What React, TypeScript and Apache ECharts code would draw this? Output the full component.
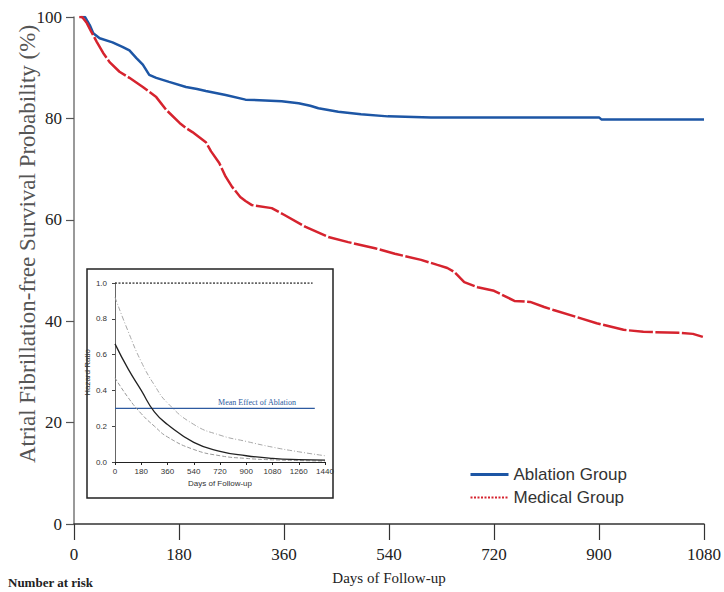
import React, { useEffect, useRef } from "react";
import * as echarts from "echarts";

// Kaplan-Meier estimates (days of follow-up, survival %)
const ablationDays = [12, 19, 27, 33, 44, 66, 83, 95, 107, 118, 129, 141, 163, 192, 211, 226, 260, 294, 356, 385, 405, 419, 453, 492, 538, 612, 900, 904, 1080];
const ablationSurv = [100, 100, 98.4, 96.8, 95.8, 95.0, 94.1, 93.4, 91.9, 90.6, 88.6, 88.0, 87.2, 86.2, 85.8, 85.4, 84.6, 83.7, 83.4, 83.0, 82.5, 82.0, 81.3, 80.8, 80.4, 80.2, 80.2, 79.8, 79.8];

const medicalDays = [9, 14, 22, 30, 39, 50, 61, 78, 95, 118, 141, 158, 181, 192, 203, 226, 235, 249, 260, 271, 285, 294, 305, 339, 360, 397, 436, 470, 516, 550, 595, 623, 640, 652, 669, 692, 720, 755, 782, 806, 822, 862, 896, 942, 976, 1037, 1061, 1078];
const medicalSurv = [100, 100, 98.8, 97.0, 95.1, 92.9, 91.1, 89.2, 88.0, 86.2, 84.2, 81.7, 79.1, 78.1, 77.3, 75.3, 73.5, 71.2, 68.5, 66.5, 64.5, 63.7, 62.9, 62.3, 61.0, 58.6, 56.6, 55.6, 54.4, 53.3, 52.1, 51.1, 50.5, 49.7, 47.7, 46.7, 46.0, 44.0, 43.8, 42.8, 42.2, 40.8, 39.6, 38.3, 37.9, 37.7, 37.5, 36.9];

// Inset: time-varying hazard ratio of ablation vs. medical therapy
const hrDays = [0, 90, 180, 270, 360, 540, 720, 900, 1080, 1260, 1440];
const hrMean = [0.66, 0.52, 0.4, 0.28, 0.21, 0.11, 0.06, 0.035, 0.02, 0.013, 0.01];
const hrUpper = [0.92, 0.73, 0.56, 0.43, 0.33, 0.21, 0.15, 0.115, 0.083, 0.057, 0.035];
const hrLower = [0.47, 0.36, 0.27, 0.2, 0.14, 0.07, 0.035, 0.02, 0.012, 0.008, 0.005];
const refLineDays = [0, 1355];
const refLineHr = [1.0, 1.0];
const meanEffectDays = [0, 1370];
const meanEffectHr = [0.3, 0.3];

const zip = (xs: number[], ys: number[]) => xs.map((x, i) => [x, ys[i]]);

const SERIF = "'Liberation Serif', 'Times New Roman', serif";
const NARROW = "'Liberation Sans Narrow', 'Liberation Sans', Arial, sans-serif";
const BLUE = "#1d56a5";
const RED = "#d6232e";

export default function App() {
  const ref = useRef<HTMLDivElement>(null);

  useEffect(() => {
    document.body.style.margin = "0";
    if (!ref.current) return;
    const chart = echarts.init(ref.current, null, { renderer: "svg" });

    chart.setOption({
      animation: false,
      backgroundColor: "#ffffff",
      grid: [
        { left: 74, right: 16, top: 17, bottom: 68 },
        { left: 115, top: 283, width: 210, height: 179 },
      ],
      legend: {
        orient: "vertical",
        left: 464,
        top: 461,
        itemWidth: 38,
        itemHeight: 12,
        itemGap: 6,
        textStyle: { fontFamily: NARROW, fontSize: 17, color: "#333" },
        data: [
          {
            name: "Ablation Group",
            itemStyle: { opacity: 0 },
            lineStyle: { color: BLUE, width: 3, type: "solid" },
          },
          {
            name: "Medical Group",
            itemStyle: { opacity: 0 },
            lineStyle: { color: RED, width: 2, type: [2, 1.5] },
          },
        ],
      },
      xAxis: [
        {
          gridIndex: 0,
          type: "value",
          min: 0,
          max: 1080,
          interval: 180,
          splitLine: { show: false },
          axisLine: { lineStyle: { color: "#333", width: 1.5 } },
          axisTick: { length: 16, lineStyle: { color: "#333", width: 1.2 } },
          axisLabel: {
            fontFamily: SERIF,
            fontSize: 17,
            color: "#222",
            margin: 22,
            formatter: (v: number) => String(v),
          },
          name: "Days of Follow-up",
          nameLocation: "middle",
          nameGap: 46,
          nameTextStyle: { fontFamily: SERIF, fontSize: 15, color: "#222" },
        },
        {
          gridIndex: 1,
          type: "value",
          min: 0,
          max: 1440,
          interval: 180,
          splitLine: { show: false },
          axisLine: { lineStyle: { color: "#222", width: 1 } },
          axisTick: { length: 3, lineStyle: { color: "#222" } },
          axisLabel: {
            fontFamily: NARROW,
            fontSize: 8,
            color: "#333",
            margin: 5,
            formatter: (v: number) => String(v),
          },
          name: "Days of Follow-up",
          nameLocation: "middle",
          nameGap: 17,
          nameTextStyle: { fontFamily: NARROW, fontSize: 8, color: "#333" },
        },
      ],
      yAxis: [
        {
          gridIndex: 0,
          type: "value",
          min: 0,
          max: 100,
          interval: 20,
          splitLine: { show: false },
          axisLine: { show: true, lineStyle: { color: "#777", width: 1.5 } },
          axisTick: { show: true, length: 8, lineStyle: { color: "#555", width: 1.2 } },
          axisLabel: { fontFamily: SERIF, fontSize: 17, color: "#222", margin: 12 },
        },
        {
          gridIndex: 1,
          type: "value",
          min: 0,
          max: 1,
          interval: 0.2,
          splitLine: { show: false },
          axisLine: { show: true, lineStyle: { color: "#666", width: 1 } },
          axisTick: { show: true, length: 3, lineStyle: { color: "#444" } },
          axisLabel: {
            fontFamily: NARROW,
            fontSize: 8,
            color: "#333",
            margin: 8,
            formatter: (v: number) => v.toFixed(1),
          },
          name: "Hazard Ratio",
          nameLocation: "middle",
          nameGap: 20,
          nameTextStyle: { fontFamily: NARROW, fontSize: 8, color: "#333" },
        },
      ],
      series: [
        {
          name: "Ablation Group",
          type: "line",
          xAxisIndex: 0,
          yAxisIndex: 0,
          symbol: "none",
          data: zip(ablationDays, ablationSurv),
          lineStyle: { color: BLUE, width: 2.5 },
          itemStyle: { color: BLUE },
        },
        {
          name: "Medical Group",
          type: "line",
          xAxisIndex: 0,
          yAxisIndex: 0,
          symbol: "none",
          data: zip(medicalDays, medicalSurv),
          lineStyle: { color: RED, width: 2.5, type: [24, 2.5] },
          itemStyle: { color: RED },
        },
        {
          name: "Reference",
          type: "line",
          xAxisIndex: 1,
          yAxisIndex: 1,
          symbol: "none",
          data: zip(refLineDays, refLineHr),
          lineStyle: { color: "#333", width: 1.3, type: [2, 1.5] },
        },
        {
          name: "Mean Effect",
          type: "line",
          xAxisIndex: 1,
          yAxisIndex: 1,
          symbol: "none",
          data: zip(meanEffectDays, meanEffectHr),
          lineStyle: { color: "#2d5aa0", width: 1.2 },
        },
        {
          name: "Upper CI",
          type: "line",
          xAxisIndex: 1,
          yAxisIndex: 1,
          symbol: "none",
          smooth: true,
          data: zip(hrDays, hrUpper),
          lineStyle: { color: "#a8a8a8", width: 1, type: [5, 2, 1, 2] },
        },
        {
          name: "Lower CI",
          type: "line",
          xAxisIndex: 1,
          yAxisIndex: 1,
          symbol: "none",
          smooth: true,
          data: zip(hrDays, hrLower),
          lineStyle: { color: "#999", width: 1, type: [4, 2] },
        },
        {
          name: "Hazard Ratio",
          type: "line",
          xAxisIndex: 1,
          yAxisIndex: 1,
          symbol: "none",
          smooth: true,
          data: zip(hrDays, hrMean),
          lineStyle: { color: "#222", width: 1.3 },
        },
      ],
      graphic: [
        {
          type: "rect",
          shape: { x: 87, y: 269, width: 246, height: 229 },
          style: { fill: "none", stroke: "#222", lineWidth: 1.5 },
          silent: true,
        },
        {
          type: "text",
          x: 257,
          y: 402,
          style: {
            text: "Mean Effect of Ablation",
            fontFamily: SERIF,
            fontSize: 8,
            fill: "#2d5aa0",
            align: "center",
            verticalAlign: "middle",
          },
        },
        {
          type: "text",
          x: 27,
          y: 244,
          rotation: Math.PI / 2,
          style: {
            text: "Atrial Fibrillation-free Survival Probability (%)",
            fontFamily: SERIF,
            fontSize: 23,
            fill: "#555",
            align: "center",
            verticalAlign: "middle",
          },
        },
        {
          type: "text",
          x: 8,
          y: 576,
          style: {
            text: "Number at risk",
            fontFamily: SERIF,
            fontSize: 13,
            fontWeight: "bold",
            fill: "#222",
            align: "left",
            verticalAlign: "top",
          },
        },
      ],
    });

    return () => chart.dispose();
  }, []);

  return <div ref={ref} style={{ width: 724, height: 592 }} />;
}
